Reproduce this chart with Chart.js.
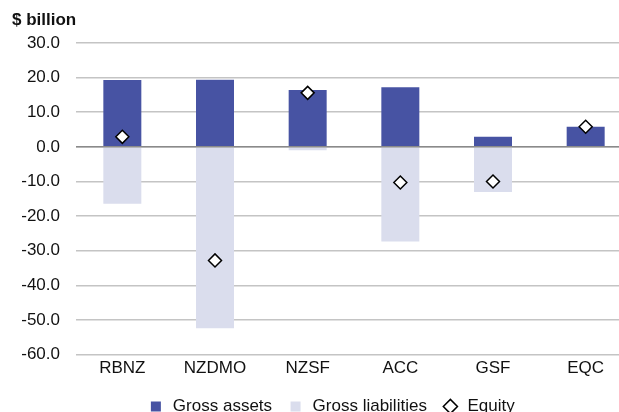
<!DOCTYPE html>
<html>
  <head>
    <script src="https://cdn.jsdelivr.net/npm/chart.js@4.4.1/dist/chart.umd.min.js"></script>
    <style>
      html, body { margin: 0; padding: 0; overflow: hidden; background: #fff; }
      #wrap { width: 640px; height: 425px; }
    </style>
  </head>

  <body>
    <div id="wrap">
      <canvas id="canvas"></canvas>
    </div>
    <script>
      const categories = ['RBNZ', 'NZDMO', 'NZSF', 'ACC', 'GSF', 'EQC'];
      const grossAssets = [19.3, 19.4, 16.4, 17.2, 2.9, 5.8];
      const grossLiabilities = [-16.4, -52.4, -1.0, -27.3, -13.0, 0];
      const equity = [2.9, -32.8, 15.6, -10.3, -10.0, 5.8];
      const yTicks = [30, 20, 10, 0, -10, -20, -30, -40, -50, -60];

      const FONT = "'Liberation Sans', Arial, sans-serif";

      // unit label, the zero line over the bars, legend nudged right
      const extras = {
        id: 'extras',
        afterLayout(chart) {
          chart.legend.left += 15;
          chart.legend.right += 15;
        },
        afterDatasetsDraw(chart) {
          const { ctx, chartArea, scales } = chart;
          const y0 = scales.y.getPixelForValue(0);
          ctx.save();
          ctx.strokeStyle = '#8a8a8a';
          ctx.lineWidth = 1.5;
          ctx.beginPath();
          ctx.moveTo(chartArea.left, y0);
          ctx.lineTo(chartArea.right, y0);
          ctx.stroke();
          ctx.restore();
        },
        afterDraw(chart) {
          const ctx = chart.ctx;
          ctx.save();
          ctx.font = 'bold 17px ' + FONT;
          ctx.fillStyle = '#111';
          ctx.textBaseline = 'middle';
          ctx.fillText('$ billion', 12, 20);
          ctx.restore();
        },
      };

      new Chart(document.getElementById('canvas'), {
        type: 'bar',
        data: {
          labels: categories,
          datasets: [
            {
              label: 'Gross assets',
              data: grossAssets,
              backgroundColor: '#4753a3',
              grouped: false,
              categoryPercentage: 1,
              barPercentage: 0.41,
              pointStyle: 'rect',
            },
            {
              label: 'Gross liabilities',
              data: grossLiabilities,
              backgroundColor: '#dadded',
              grouped: false,
              categoryPercentage: 1,
              barPercentage: 0.41,
              pointStyle: 'rect',
            },
            {
              type: 'line',
              label: 'Equity',
              data: equity,
              showLine: false,
              order: -1,
              pointStyle: 'rectRot',
              pointRadius: 6.5,
              pointHoverRadius: 6.5,
              backgroundColor: '#ffffff',
              borderColor: '#000000',
              borderWidth: 1.5,
            },
          ],
        },
        plugins: [extras],
        options: {
          responsive: true,
          maintainAspectRatio: false,
          animation: false,
          layout: {
            padding: { top: 43, right: 8, left: 0, bottom: 0 },
          },
          scales: {
            x: {
              grid: { display: false, drawTicks: false },
              border: { display: false },
              ticks: {
                color: '#111',
                font: { family: FONT, size: 17 },
                padding: 4,
              },
            },
            y: {
              min: -60,
              max: 30,
              afterFit: (scale) => {
                scale.width = 76;
              },
              afterBuildTicks: (scale) => {
                scale.ticks = yTicks.map((v) => ({ value: v }));
              },
              border: { display: false },
              grid: {
                color: '#c4c4c4',
                lineWidth: 1.5,
                drawTicks: false,
              },
              ticks: {
                color: '#111',
                font: { family: FONT, size: 17 },
                padding: 16,
                callback: (v) => Number(v).toFixed(1),
              },
            },
          },
          plugins: {
            tooltip: { enabled: false },
            legend: {
              position: 'bottom',
              labels: {
                usePointStyle: true,
                boxHeight: 10,
                color: '#111',
                font: { family: FONT, size: 17 },
                padding: 15,
                sort: (a, b) => a.datasetIndex - b.datasetIndex,
              },
            },
          },
        },
      });
    </script>
  </body>
</html>
